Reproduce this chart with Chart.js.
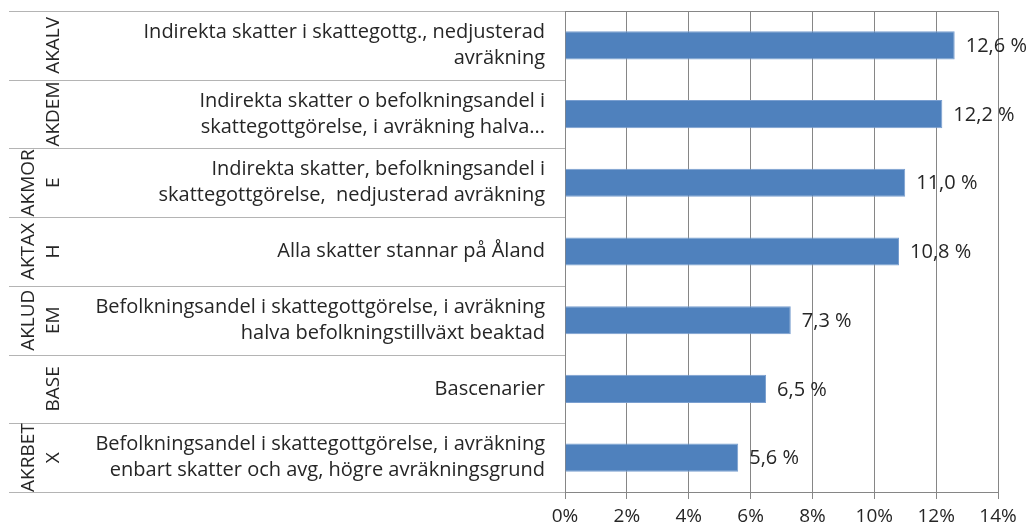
<!DOCTYPE html>
<html>
<head>
<meta charset="utf-8">
<script src="https://cdn.jsdelivr.net/npm/chart.js@4"></script>
<style>
  html, body { margin: 0; padding: 0; background: #fff; }
  canvas { display: block; }
</style>
</head>
<body>
<canvas id="chartBar" width="1030" height="529"></canvas>
<script>
// scenario codes (wrapped like in the original table)
const groups = [
  ["AKALV"],
  ["AKDEM"],
  ["AKMOR", "E"],
  ["AKTAX", "H"],
  ["AKLUD", "EM"],
  ["BASE"],
  ["AKRBET", "X"],
];
const descriptions = [
  ["Indirekta skatter i skattegottg., nedjusterad", "avräkning"],
  ["Indirekta skatter o befolkningsandel i", "skattegottgörelse, i avräkning halva..."],
  ["Indirekta skatter, befolkningsandel i", "skattegottgörelse,  nedjusterad avräkning"],
  "Alla skatter stannar på Åland",
  ["Befolkningsandel i skattegottgörelse, i avräkning", "halva befolkningstillväxt beaktad"],
  "Bascenarier",
  ["Befolkningsandel i skattegottgörelse, i avräkning", "enbart skatter och avg, högre avräkningsgrund"],
];
const values = [12.6, 12.2, 11.0, 10.8, 7.3, 6.5, 5.6];
const xTicks = [0, 2, 4, 6, 8, 10, 12, 14];

const FONT = "'Open Sans', Lato, sans-serif";
const TEXT = "#262626";

const tablePlugin = {
  id: "tablePlugin",
  afterDraw(chart) {
    const ctx = chart.ctx;
    const area = chart.chartArea;
    const y = chart.scales.y;
    const x = chart.scales.x;
    const n = values.length;
    const step = (area.bottom - area.top) / n;

    ctx.save();
    // row separators in the category area
    ctx.strokeStyle = "#b4b4b4";
    ctx.lineWidth = 1;
    for (let i = 0; i <= n; i++) {
      const yy = Math.round(area.top + i * step) + 0.5;
      ctx.beginPath();
      ctx.moveTo(9, yy);
      ctx.lineTo(area.left, yy);
      ctx.stroke();
    }
    // top frame of the plot
    ctx.strokeStyle = "#868686";
    ctx.beginPath();
    ctx.moveTo(area.left, Math.round(area.top) + 0.5);
    ctx.lineTo(area.right, Math.round(area.top) + 0.5);
    ctx.stroke();

    // rotated group codes
    ctx.fillStyle = TEXT;
    ctx.font = "19px " + FONT;
    ctx.textAlign = "center";
    ctx.textBaseline = "middle";
    groups.forEach((lines, i) => {
      const cy = y.getPixelForValue(i);
      lines.forEach((t, j) => {
        const cx = 54 - (lines.length - 1 - j) * 25;
        ctx.save();
        ctx.translate(cx, cy);
        ctx.rotate(-Math.PI / 2);
        ctx.fillText(t, 0, 0);
        ctx.restore();
      });
    });

    // value labels
    ctx.font = "20px " + FONT;
    ctx.textAlign = "left";
    values.forEach((v, i) => {
      const px = x.getPixelForValue(v);
      const py = y.getPixelForValue(i);
      ctx.fillText(v.toFixed(1).replace(".", ",") + " %", px + 11, py + 1);
    });
    ctx.restore();
  },
};

const ctx = document.getElementById("chartBar").getContext("2d");
new Chart(ctx, {
  type: "bar",
  data: {
    labels: descriptions,
    datasets: [
      {
        data: values,
        backgroundColor: "#4F81BD",
        borderColor: "#7a9fd0",
        borderWidth: 1,
        barPercentage: 0.41,
        categoryPercentage: 1,
      },
    ],
  },
  options: {
    indexAxis: "y",
    responsive: false,
    animation: false,
    layout: { padding: { top: 11, right: 32, left: 0, bottom: 0 } },
    plugins: {
      legend: { display: false },
      tooltip: { enabled: false },
    },
    scales: {
      x: {
        min: 0,
        max: 14,
        afterBuildTicks: (scale) => {
          scale.ticks = xTicks.map((v) => ({ value: v }));
        },
        afterFit: (scale) => {
          scale.height = 37;
          scale.paddingLeft = 0;
          scale.paddingRight = 0;
        },
        grid: { color: "#868686", tickLength: 7 },
        border: { color: "#868686" },
        ticks: {
          padding: 6,
          color: TEXT,
          font: { family: FONT, size: 19 },
          callback: (v) => v + "%",
        },
      },
      y: {
        afterFit: (scale) => {
          scale.width = 565;
          scale.paddingTop = 0;
          scale.paddingBottom = 0;
        },
        grid: { display: false },
        border: { display: false },
        ticks: {
          padding: 12,
          color: TEXT,
          font: { family: FONT, size: 20, lineHeight: 1.3 },
        },
      },
    },
  },
  plugins: [tablePlugin],
});
</script>
</body>
</html>
